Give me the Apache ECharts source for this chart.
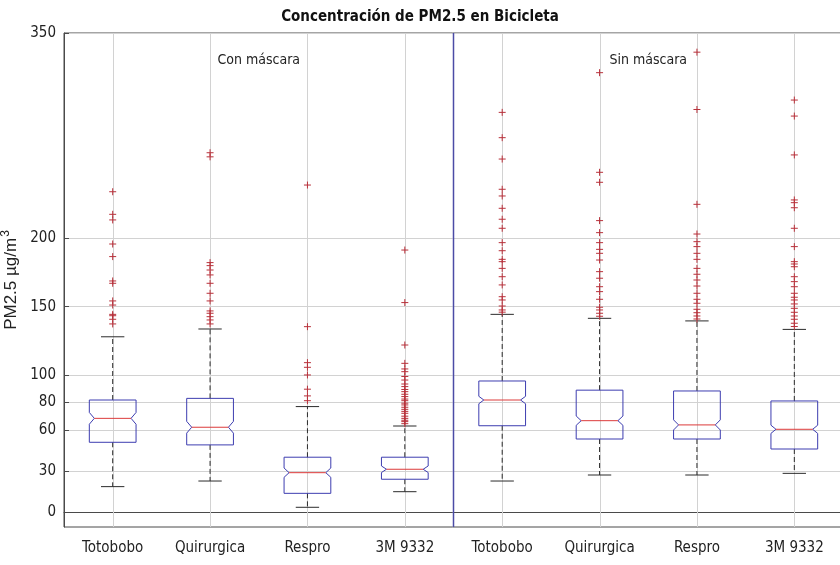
<!DOCTYPE html>
<html>
<head>
<meta charset="utf-8">
<script src="https://cdn.jsdelivr.net/npm/echarts@6/dist/echarts.min.js"></script>
<style>
  html, body { margin: 0; padding: 0; background: #ffffff; }
  #chart { width: 840px; height: 565px; }
</style>
</head>
<body>
<div id="chart"></div>
<script>
// PM2.5 exposure while cycling, by mask type, with and without a mask
const categories = ['Totobobo', 'Quirurgica', 'Respro', '3M 9332', 'Totobobo', 'Quirurgica', 'Respro', '3M 9332'];
const groupLabels = ['Con máscara', 'Sin máscara'];

// Box statistics (µg/m3)
const whiskerLow  = [18.5, 22.6,  3.4, 14.8,  22.6,  27.0,  27.0,  28.2];
const q1          = [50.9, 49.0, 13.6, 23.9,  63.0,  53.3,  53.3,  46.0];
const median      = [68.4, 61.9, 28.7, 31.2,  81.8,  66.7,  63.6,  60.4];
const q3          = [81.8, 83.0, 40.0, 40.0,  95.7,  89.0,  88.4,  81.1];
const whiskerHigh = [128.0, 133.7, 77.0, 62.8, 144.4, 141.5, 139.6, 133.4];
const notchHalf   = [4.3, 4.3, 3.4, 2.4, 2.7, 3.4, 3.7, 3.0];

// Outliers per box
const outliers = [
  [234, 217.5, 213.4, 195.8, 186.6, 168.8, 167.1, 154.2, 151.2, 144.4, 143.4, 140.8, 137.4],
  [262.5, 259.5, 182.2, 180, 176.8, 173.2, 167.1, 159.8, 154.2, 146.9, 145.2, 142.7, 140.3, 137.4],
  [238.9, 135.4, 109.1, 105.7, 100.1, 89.7, 84.8, 81.3],
  [191.4, 153, 122, 108.6, 104.5, 102.5, 99, 96.4, 93.5, 91.6, 89.5, 87.9, 86, 84.3, 82.5, 81.3, 79.5,
   78.2, 76.5, 75, 73.5, 72.1, 70, 68.4, 67, 66, 64.5],
  [292, 273.5, 257.9, 235.8, 230.9, 221.9, 213.9, 207.3, 196.8, 190.9, 184.6, 182.9, 178, 171.9, 165.9,
   157.3, 154.9, 150.5, 147.6, 146],
  [321, 248.2, 240.9, 212.9, 204.1, 196.8, 191.9, 189, 184.1, 175.6, 170.8, 164.6, 161, 155.4, 149.6,
   147.6, 145.2, 143],
  [336, 294.1, 224.8, 203.1, 197.5, 193.9, 189, 184.6, 178, 173.7, 169.5, 165.1, 159.8, 155.4, 152.5,
   148.1, 145.6, 143.2, 141],
  [301, 289.3, 260.9, 228, 226, 222.3, 207.3, 193.9, 182.9, 181.2, 179.2, 171.9, 168.3, 164.6, 159.8,
   156.9, 154.9, 152, 148.8, 145.9, 143.2, 140.8, 137.9, 135.5]
];

const yTicks = [0, 30, 60, 80, 100, 150, 200, 350];
const yMin = -11;
const yMax = 350;

const FONT = "'Liberation Sans Narrow', 'Arial Narrow', 'DejaVu Sans Condensed', sans-serif";
const BOX_COLOR = '#3d3db0';
const MEDIAN_COLOR = '#dc3a3a';
const WHISKER_COLOR = '#2b2b2b';
const OUTLIER_COLOR = '#b8303a';
const GRID_COLOR = '#d2d2d2';

const boxData = categories.map((c, i) =>
  [i, whiskerLow[i], q1[i], median[i], q3[i], whiskerHigh[i], notchHalf[i]]);

const outlierData = [];
outliers.forEach((list, i) => list.forEach(v => outlierData.push([i, v])));

const gridLineData = categories.map((c, i) => [i]);

function renderGridLine(params, api) {
  const cs = params.coordSys;
  const x = Math.round(api.coord([api.value(0), 0])[0]) + 0.5;
  return {
    type: 'line',
    shape: { x1: x, y1: cs.y, x2: x, y2: cs.y + cs.height },
    style: { stroke: GRID_COLOR, lineWidth: 1 },
    silent: true
  };
}

function renderBox(params, api) {
  const i = api.value(0);
  const bw = api.size([1, 0])[0] * 0.48;
  const cx = api.coord([i, 0])[0];
  const y = v => api.coord([i, v])[1];
  const lo = api.value(1), b1 = api.value(2), md = api.value(3), b3 = api.value(4), hi = api.value(5), nh = api.value(6);
  const L = cx - bw / 2, R = cx + bw / 2, d = 5;
  const cap = bw / 4;
  const yMd = y(md), yN1 = y(md - nh), yN2 = y(md + nh);
  const dash = { stroke: WHISKER_COLOR, lineWidth: 1, lineDash: [5, 3] };
  const solid = { stroke: WHISKER_COLOR, lineWidth: 1 };
  return {
    type: 'group',
    children: [
      { type: 'line', shape: { x1: cx, y1: y(b3), x2: cx, y2: y(hi) }, style: dash },
      { type: 'line', shape: { x1: cx, y1: y(b1), x2: cx, y2: y(lo) }, style: dash },
      { type: 'line', shape: { x1: cx - cap, y1: y(hi), x2: cx + cap, y2: y(hi) }, style: solid },
      { type: 'line', shape: { x1: cx - cap, y1: y(lo), x2: cx + cap, y2: y(lo) }, style: solid },
      {
        type: 'polygon',
        shape: {
          points: [
            [L, y(b1)], [L, yN1], [L + d, yMd], [L, yN2], [L, y(b3)],
            [R, y(b3)], [R, yN2], [R - d, yMd], [R, yN1], [R, y(b1)]
          ]
        },
        style: { fill: 'none', stroke: BOX_COLOR, lineWidth: 1 }
      },
      { type: 'line', shape: { x1: L + d, y1: yMd, x2: R - d, y2: yMd }, style: { stroke: MEDIAN_COLOR, lineWidth: 1 } }
    ]
  };
}

function renderOutlier(params, api) {
  const p = api.coord([api.value(0), api.value(1)]);
  const h = 3.5;
  const st = { stroke: OUTLIER_COLOR, lineWidth: 1 };
  return {
    type: 'group',
    children: [
      { type: 'line', shape: { x1: p[0] - h, y1: p[1], x2: p[0] + h, y2: p[1] }, style: st },
      { type: 'line', shape: { x1: p[0], y1: p[1] - h, x2: p[0], y2: p[1] + h }, style: st }
    ]
  };
}

const chart = echarts.init(document.getElementById('chart'), null, { renderer: 'canvas' });

chart.setOption({
  animation: false,
  backgroundColor: '#ffffff',
  title: {
    text: 'Concentración de PM2.5 en Bicicleta',
    left: 'center',
    top: 5,
    textStyle: { fontFamily: FONT, fontWeight: 'bold', fontSize: 15, color: '#111' }
  },
  grid: {
    left: 64, right: -3, top: 33, bottom: 38,
    outerBoundsMode: 'none',
    show: true, borderColor: '#4a4a4a', borderWidth: 1, containLabel: false
  },
  xAxis: {
    type: 'category',
    data: categories,
    boundaryGap: true,
    axisLine: { show: true, lineStyle: { color: '#4a4a4a' } },
    axisTick: { show: false },
    splitLine: { show: false },
    axisLabel: { fontFamily: FONT, fontSize: 15, color: '#222', margin: 14, interval: 0 }
  },
  yAxis: {
    type: 'value',
    min: yMin,
    max: yMax,
    name: '{a|PM2.5 µg/m}{s|3}',
    nameLocation: 'middle',
    nameGap: 36,
    nameTextStyle: {
      fontFamily: "'Liberation Sans', Arial, sans-serif", fontSize: 17, color: '#222',
      rich: {
        a: { fontFamily: "'Liberation Sans', Arial, sans-serif", fontSize: 17, color: '#222' },
        s: { fontFamily: "'Liberation Sans', Arial, sans-serif", fontSize: 12, color: '#222', padding: [0, 0, 10, 1] }
      }
    },
    axisLine: { show: true, lineStyle: { color: '#4a4a4a' } },
    axisTick: { show: true, inside: true, length: 5, customValues: yTicks, lineStyle: { color: '#4a4a4a' } },
    axisLabel: { customValues: yTicks, fontFamily: FONT, fontSize: 15, color: '#222', margin: 8 },
    splitLine: { show: true, lineStyle: { color: GRID_COLOR, width: 1 } }
  },
  series: [
    {
      type: 'custom',
      name: 'grid',
      z: 1,
      silent: true,
      renderItem: renderGridLine,
      data: gridLineData,
      encode: { x: 0 }
    },
    {
      type: 'custom',
      name: 'boxes',
      z: 3,
      renderItem: renderBox,
      data: boxData,
      encode: { x: 0, y: [1, 5] }
    },
    {
      type: 'custom',
      name: 'outliers',
      z: 4,
      renderItem: renderOutlier,
      data: outlierData,
      encode: { x: 0, y: 1 }
    }
  ]
});

// Divider between the two groups and the group captions
const px = i => chart.convertToPixel({ xAxisIndex: 0 }, i);
const py = v => chart.convertToPixel({ yAxisIndex: 0 }, v);
const xDiv = (px(3) + px(4)) / 2;
chart.setOption({
  graphic: [
    {
      type: 'line', z: 5, silent: true,
      shape: { x1: xDiv, y1: py(yMax), x2: xDiv, y2: py(yMin) },
      style: { stroke: '#4b4ba6', lineWidth: 1.5 }
    },
    {
      type: 'text', z: 5, silent: true,
      x: (px(1) + px(2)) / 2, y: py(330),
      style: { text: groupLabels[0], fontFamily: FONT, fontSize: 14, fill: '#222', align: 'center', verticalAlign: 'middle' }
    },
    {
      type: 'text', z: 5, silent: true,
      x: (px(5) + px(6)) / 2, y: py(330),
      style: { text: groupLabels[1], fontFamily: FONT, fontSize: 14, fill: '#222', align: 'center', verticalAlign: 'middle' }
    }
  ]
});
</script>
</body>
</html>
